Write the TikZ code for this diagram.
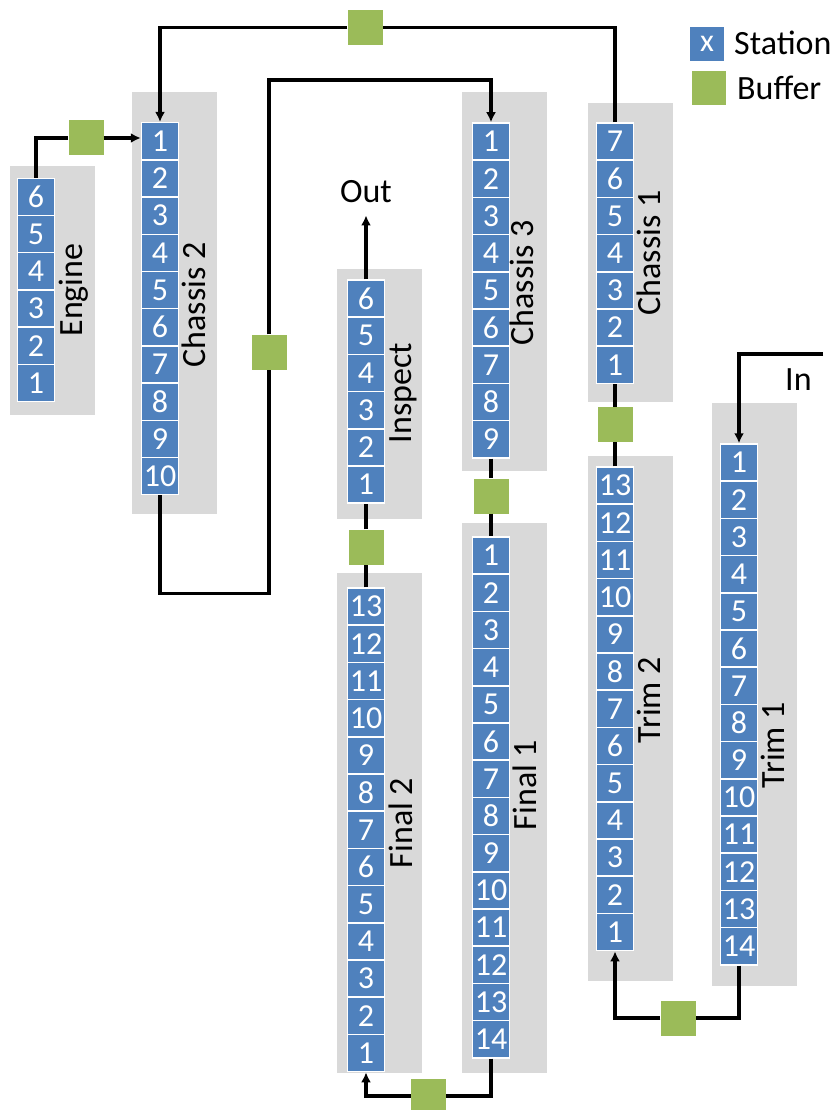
\documentclass[tikz,border=0pt]{standalone}
\usepackage{fontspec}
\setmainfont{Carlito}
\usetikzlibrary{arrows.meta}

\definecolor{stblue}{HTML}{4F81BD}
\definecolor{bufgreen}{HTML}{9BBB59}
\definecolor{panelgray}{HTML}{D9D9D9}

% one vertical column of stations: name prefix, centre x, top y, labels top to bottom
\newcommand{\stcolumn}[4]{%
  \foreach \lab [count=\i] in {#4} {
    \node[station] (#1-\lab) at (#2, {#3 + (\i-0.5)*37.2}) {\lab};
  }%
}

\begin{document}
\begin{tikzpicture}[x=1pt, y=-1pt,
  station/.style={rectangle, fill=stblue, draw=white, line width=1.5pt,
    minimum width=37pt, minimum height=37.2pt, inner sep=0pt, text=white,
    font=\fontsize{32}{32}\selectfont},
  buffer/.style={rectangle, fill=bufgreen, minimum size=35pt, inner sep=0pt},
  panel/.style={fill=panelgray},
  linename/.style={rotate=90, anchor=base, inner sep=0pt,
    font=\fontsize{34}{34}\selectfont},
  legtext/.style={anchor=base west, inner sep=0pt,
    font=\fontsize{34}{34}\selectfont},
  conn/.style={line width=3.2pt, line cap=butt, line join=miter},
  flow/.style={conn, -{Latex[length=10pt, width=10pt]}}
]
\useasboundingbox (0,0) rectangle (837,1110);

% grey line panels
\path[panel] (10,166) rectangle (95,415);     % Engine
\path[panel] (132,92) rectangle (217,514);    % Chassis 2
\path[panel] (462,92) rectangle (547,471);    % Chassis 3
\path[panel] (588,103) rectangle (673,402);   % Chassis 1
\path[panel] (337,269) rectangle (422,519);   % Inspect
\path[panel] (337,573) rectangle (422,1073);  % Final 2
\path[panel] (462,523) rectangle (547,1073);  % Final 1
\path[panel] (588,456) rectangle (673,981);   % Trim 2
\path[panel] (712,403) rectangle (797,986);   % Trim 1

% station columns
\stcolumn{eng}{36}{178.3}{6,5,4,3,2,1}
\stcolumn{chb}{160}{122.7}{1,2,3,4,5,6,7,8,9,10}
\stcolumn{chc}{491}{123}{1,2,3,4,5,6,7,8,9}
\stcolumn{cha}{615}{123}{7,6,5,4,3,2,1}
\stcolumn{insp}{366}{280}{6,5,4,3,2,1}
\stcolumn{fnb}{366}{588}{13,12,11,10,9,8,7,6,5,4,3,2,1}
\stcolumn{fna}{491}{537}{1,2,3,4,5,6,7,8,9,10,11,12,13,14}
\stcolumn{trb}{615}{467}{13,12,11,10,9,8,7,6,5,4,3,2,1}
\stcolumn{tra}{739}{444}{1,2,3,4,5,6,7,8,9,10,11,12,13,14}

% line names
\node[linename] (n-eng)  at (82,290)  {Engine};
\node[linename] (n-chb)  at (205,305) {Chassis 2};
\node[linename] (n-chc)  at (533,283) {Chassis 3};
\node[linename] (n-cha)  at (660,253) {Chassis 1};
\node[linename] (n-insp) at (411,393) {Inspect};
\node[linename] (n-fnb)  at (412,823) {Final 2};
\node[linename] (n-fna)  at (536,785) {Final 1};
\node[linename] (n-trb)  at (660,700) {Trim 2};
\node[linename] (n-tra)  at (784,745) {Trim 1};

% buffers
\node[buffer] (b1) at (86,138) {};
\node[buffer] (b2) at (365,27.5) {};
\node[buffer] (b3) at (269,352) {};
\node[buffer] (b4) at (491,496) {};
\node[buffer] (b5) at (428.5,1096) {};
\node[buffer] (b6) at (366,547) {};
\node[buffer] (b7) at (678,1018) {};
\node[buffer] (b8) at (615,424.5) {};

% entry and exit
\coordinate (inpt) at (823,354);
\node[legtext] (intext) at (785,390) {In};
\node[anchor=base, inner sep=0pt, font=\fontsize{34}{34}\selectfont] (out) at (366,203) {Out};

% connectors
\draw[flow] (inpt) -| (tra-1.north);
\draw[conn] (tra-14.south) |- (b7.east);
\draw[flow] (b7.west) -| (trb-1.south);
\draw[conn] (trb-13.north) -- (b8.south);
\draw[conn] (b8.north) -- (cha-1.south);
\draw[conn] (cha-7.north) |- (b2.east);
\draw[flow] (b2.west) -| (chb-1.north);
\draw[conn] (eng-6.north) |- (b1.west);
\draw[flow] (b1.east) -- (b1.east -| chb-1.west);
\draw[conn] (chb-10.south) -- ++(0,98) -| (b3.south);
\coordinate (topturn) at (268,80);
\draw[flow] (b3.north) -- (b3.north |- topturn) -| (chc-1.north);
\draw[conn] (chc-9.south) -- (b4.north);
\draw[conn] (b4.south) -- (fna-1.north);
\draw[conn] (fna-14.south) |- (b5.east);
\draw[flow] (b5.west) -| (fnb-1.south);
\draw[conn] (fnb-13.north) -- (b6.south);
\draw[conn] (b6.north) -- (insp-1.south);
\draw[flow, shorten >=12pt] (insp-6.north) -- (out.south);

% legend
\node[station, minimum width=34pt, minimum height=34pt, draw=none] (leg-st) at (707,44) {x};
\node[legtext] (leg-st-t) at (734,55) {Station};
\node[buffer, minimum size=34pt] (leg-bf) at (709,88) {};
\node[legtext] (leg-bf-t) at (737,100) {Buffer};
\end{tikzpicture}
\end{document}
